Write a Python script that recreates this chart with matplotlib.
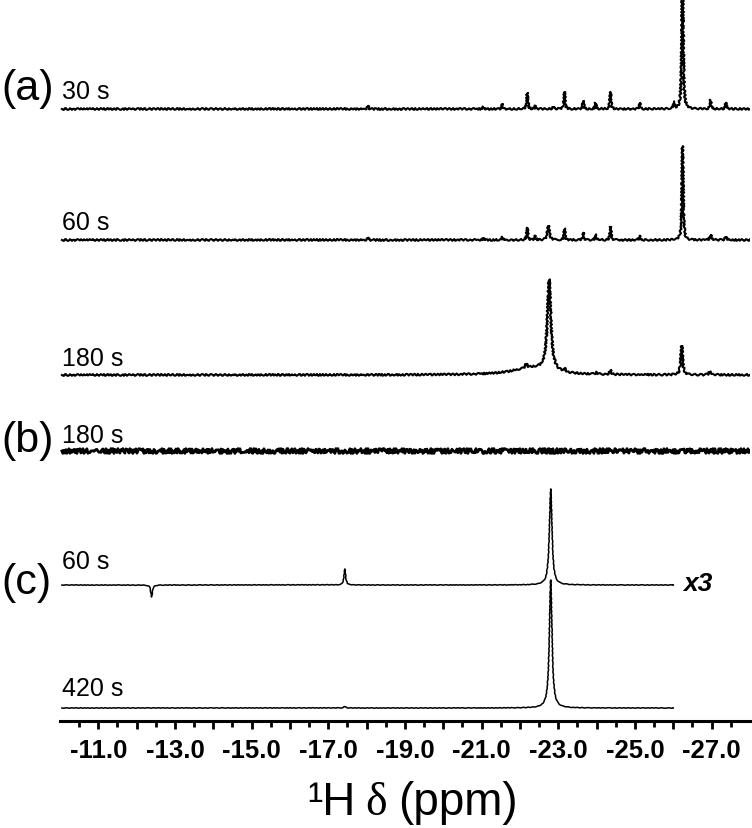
import numpy as np
import matplotlib
matplotlib.use("Agg")
import matplotlib.pyplot as plt
from matplotlib.ticker import FixedLocator

# ---------------- data (peak tables) ----------------
# (a) 30 s
a30_pos = [-18.03, -21.04, -21.54, -22.19, -22.40, -22.87, -23.16, -23.65, -23.97,
           -24.36, -25.12, -26.01, -26.24, -26.97, -27.37]
a30_int = [3, 2, 5, 16, 3, 2, 17, 8, 6, 17, 6, 6, 170, 9, 6]
a30_wid = [0.035] * len(a30_pos)

# (a) 60 s
a60_pos = [-18.03, -21.04, -21.54, -22.19, -22.40, -22.74, -23.16, -23.65, -23.97,
           -24.36, -25.12, -26.24, -26.97, -27.37]
a60_int = [2, 2, 3, 12, 4, 14, 11, 7, 5, 13, 4, 94, 5, 3]
a60_wid = [0.035, 0.035, 0.035, 0.035, 0.035, 0.06, 0.035, 0.035, 0.035, 0.035, 0.035,
           0.035, 0.045, 0.045]

# (a) 180 s
a180_pos = [-22.30, -22.16, -22.76, -23.16, -24.00, -24.36, -26.22, -26.95]
a180_int = [7, 4, 91, 3, 2, 4, 29, 3]
a180_wid = [1.20, 0.06, 0.11, 0.05, 0.05, 0.05, 0.055, 0.06]

# (b) 180 s : no resolved peaks
b180_pos = []
b180_int = []
b180_wid = []

# (c) 60 s (negative line at -12.4)
c60_pos = [-12.39, -17.43, -22.80]
c60_int = [-12, 16, 96]
c60_wid = [0.05, 0.05, 0.08]

# (c) 420 s
c420_pos = [-17.43, -22.80]
c420_int = [1.5, 128]
c420_wid = [0.06, 0.08]

trace_labels = ["30 s", "60 s", "180 s", "180 s", "60 s", "420 s"]
panel_labels = ["(a)", "(b)", "(c)"]
tick_values = [-11.0, -13.0, -15.0, -17.0, -19.0, -21.0, -23.0, -25.0, -27.0]
tick_labels = ["-11.0", "-13.0", "-15.0", "-17.0", "-19.0", "-21.0", "-23.0", "-25.0", "-27.0"]
xlabel_parts = ["\u00b9H", "\u03b4", "(ppm)"]
scale_note = "x3"


def spectrum(x, pos, inten, wid):
    y = np.zeros_like(x)
    for p, h, w in zip(pos, inten, wid):
        hw = w / 2.0
        y += h * hw ** 2 / ((x - p) ** 2 + hw ** 2)
    return y


# ---------------- figure ----------------
W, H, DPI = 752, 829, 100
fig = plt.figure(figsize=(W / DPI, H / DPI), dpi=DPI)
AX_L, AX_R, AX_Y = 60, 750, 722
ax = fig.add_axes([AX_L / W, (H - AX_Y) / H, (AX_R - AX_L) / W, AX_Y / H])
ax.set_xlim(-10.0, -28.0)
ax.set_ylim(0, AX_Y)

x_full = np.linspace(-10.05, -28.0, 8000)
x_short = np.linspace(-10.05, -26.0, 8000)

# vertical baselines (pixel rows in the picture)
traces = [
    (x_full, a30_pos, a30_int, a30_wid, 110, 1.5, (0.9, 4.0, 2.0)),
    (x_full, a60_pos, a60_int, a60_wid, 241, 1.5, (0.9, 4.0, 2.0)),
    (x_full, a180_pos, a180_int, a180_wid, 376, 1.5, (0.9, 4.0, 2.0)),
    (x_full, b180_pos, b180_int, b180_wid, 452, 2.0, (2.4, 2.0, 2.0)),
    (x_short, c60_pos, c60_int, c60_wid, 586, 1.1, (0.25, 5.0, 2.0)),
    (x_short, c420_pos, c420_int, c420_wid, 709, 1.1, (0.25, 5.0, 2.0)),
]
for xs, pos, inten, wid, row, lw, sk in traces:
    off = AX_Y - row
    ln, = ax.plot(xs, spectrum(xs, pos, inten, wid) + off, color="black", lw=lw,
                  solid_joinstyle="round")
    ln.set_sketch_params(*sk)

# axis styling
for s in ["top", "left", "right"]:
    ax.spines[s].set_visible(False)
ax.spines["bottom"].set_linewidth(2.2)
ax.set_yticks([])
major = np.arange(-11.0, -27.5, -1.0)
ax.xaxis.set_minor_locator(FixedLocator(np.arange(-10.5, -28.0, -1.0)))
ax.set_xticks(major)
lab = [tick_labels[tick_values.index(v)] if v in tick_values else "" for v in major]
ax.set_xticklabels(lab)
ax.tick_params(axis="x", which="major", direction="out", length=6, width=2.0, pad=6,
               labelsize=18.5, color="black")
ax.tick_params(axis="x", which="minor", direction="out", length=4.5, width=2.0)
for t in ax.get_xticklabels():
    t.set_fontfamily("Liberation Sans")
    t.set_fontweight("bold")


def ftext(px, py, s, **kw):
    fig.text(px / W, (H - py) / H, s, **kw)


# panel letters
ftext(1, 100, panel_labels[0], fontsize=31, family="Liberation Sans", va="baseline")
ftext(1, 452, panel_labels[1], fontsize=31, family="Liberation Sans", va="baseline")
ftext(1, 594, panel_labels[2], fontsize=31, family="Liberation Sans", va="baseline")

# trace labels
rows = [99, 230, 366, 443, 569, 696]
for s, r in zip(trace_labels, rows):
    ftext(62, r, s, fontsize=18, family="Liberation Sans", va="baseline")

ftext(683, 591, scale_note, fontsize=19, family="Liberation Sans", weight="bold",
      style="italic", va="baseline")

# x label
ftext(356, 815, xlabel_parts[0], fontsize=33, family="Liberation Sans", va="baseline", ha="right")
ftext(376, 815, xlabel_parts[1], fontsize=33, family="Liberation Serif", va="baseline", ha="center")
ftext(398, 815, xlabel_parts[2], fontsize=33, family="Liberation Sans", va="baseline", ha="left")

fig.savefig("out.png", dpi=DPI)
